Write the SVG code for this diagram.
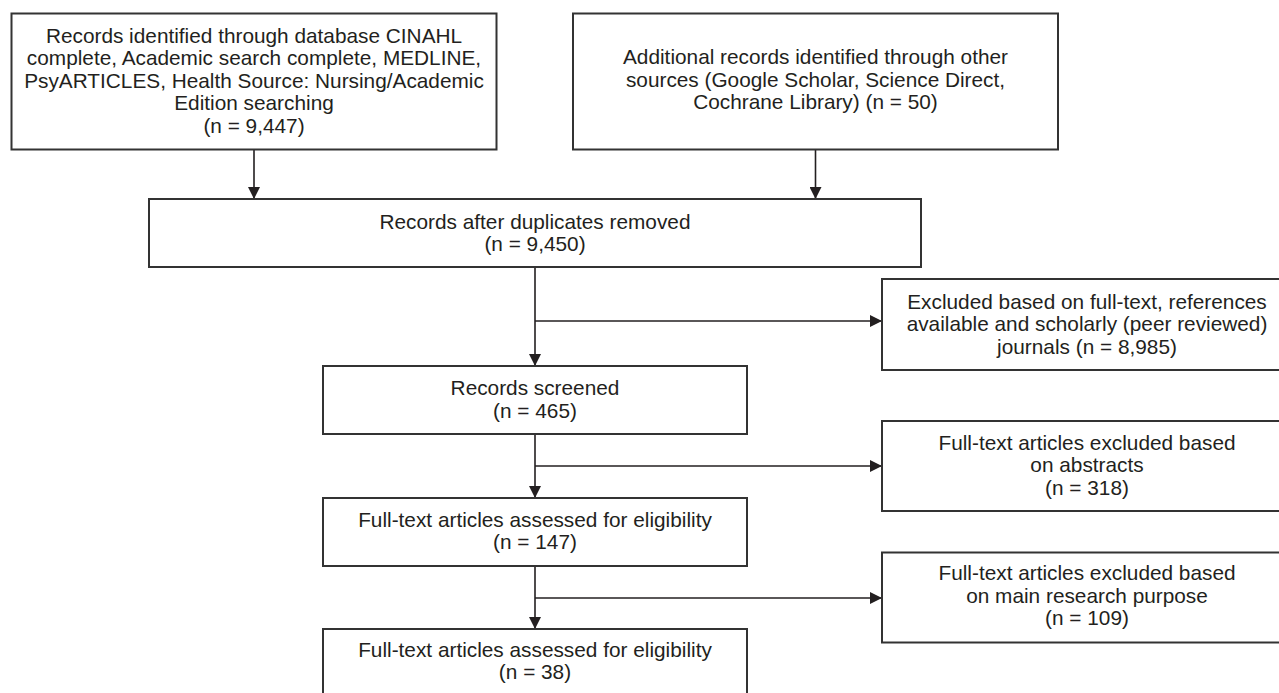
<svg xmlns="http://www.w3.org/2000/svg" width="1279" height="693" viewBox="0 0 1279 693">
<defs>
<style>
.box{fill:#fff;stroke:#333;stroke-width:2}
.t{font-family:"Liberation Sans",Arial,sans-serif;font-size:20.8px;fill:#231f20;text-anchor:middle}
.c{fill:none;stroke:#231f20;stroke-width:1.6}
</style>
<marker id="ah" markerUnits="userSpaceOnUse" markerWidth="12" markerHeight="12" refX="12" refY="6" orient="auto">
<path d="M0,0 L12,6 L0,12 Z" fill="#231f20"/>
</marker>
</defs>
<rect width="1279" height="693" fill="#fff"/>
<g id="connectors">
<line class="c" x1="254" y1="149" x2="254" y2="199" marker-end="url(#ah)"/>
<line class="c" x1="815.5" y1="150" x2="815.5" y2="199" marker-end="url(#ah)"/>
<line class="c" x1="535" y1="267" x2="535" y2="366" marker-end="url(#ah)"/>
<line class="c" x1="535" y1="321" x2="882" y2="321" marker-end="url(#ah)"/>
<line class="c" x1="535" y1="434" x2="535" y2="498" marker-end="url(#ah)"/>
<line class="c" x1="535" y1="466" x2="882" y2="466" marker-end="url(#ah)"/>
<line class="c" x1="535" y1="566" x2="535" y2="629" marker-end="url(#ah)"/>
<line class="c" x1="535" y1="598" x2="882" y2="598" marker-end="url(#ah)"/>
</g>
<g id="n1">
<rect class="box" x="11.5" y="13.5" width="485" height="136"/>
<text class="t" x="254" y="42.5">Records identified through database CINAHL</text>
<text class="t" x="254" y="65">complete, Academic search complete, MEDLINE,</text>
<text class="t" x="254" y="87.5">PsyARTICLES, Health Source: Nursing/Academic</text>
<text class="t" x="254" y="110">Edition searching</text>
<text class="t" x="254" y="132.5">(n = 9,447)</text>
</g>
<g id="n2">
<rect class="box" x="573" y="13.5" width="485" height="136"/>
<text class="t" x="815.5" y="64">Additional records identified through other</text>
<text class="t" x="815.5" y="86.5">sources (Google Scholar, Science Direct,</text>
<text class="t" x="815.5" y="109">Cochrane Library) (n = 50)</text>
</g>
<g id="n3">
<rect class="box" x="149" y="199" width="772" height="68"/>
<text class="t" x="535" y="228.5">Records after duplicates removed</text>
<text class="t" x="535" y="251">(n = 9,450)</text>
</g>
<g id="n4">
<rect class="box" x="882" y="279" width="410" height="91"/>
<text class="t" x="1087" y="308.5">Excluded based on full-text, references</text>
<text class="t" x="1087" y="331">available and scholarly (peer reviewed)</text>
<text class="t" x="1087" y="353.5">journals (n = 8,985)</text>
</g>
<g id="n5">
<rect class="box" x="323" y="366" width="424" height="68"/>
<text class="t" x="535" y="395">Records screened</text>
<text class="t" x="535" y="417.5">(n = 465)</text>
</g>
<g id="n6">
<rect class="box" x="882" y="421" width="410" height="90"/>
<text class="t" x="1087" y="449.5">Full-text articles excluded based</text>
<text class="t" x="1087" y="472">on abstracts</text>
<text class="t" x="1087" y="494.5">(n = 318)</text>
</g>
<g id="n7">
<rect class="box" x="323" y="498" width="424" height="68"/>
<text class="t" x="535" y="526.5">Full-text articles assessed for eligibility</text>
<text class="t" x="535" y="549">(n = 147)</text>
</g>
<g id="n8">
<rect class="box" x="882" y="552.5" width="410" height="90"/>
<text class="t" x="1087" y="580">Full-text articles excluded based</text>
<text class="t" x="1087" y="602.5">on main research purpose</text>
<text class="t" x="1087" y="625">(n = 109)</text>
</g>
<g id="n9">
<rect class="box" x="323" y="629" width="424" height="68"/>
<text class="t" x="535" y="656.5">Full-text articles assessed for eligibility</text>
<text class="t" x="535" y="679">(n = 38)</text>
</g>
</svg>
